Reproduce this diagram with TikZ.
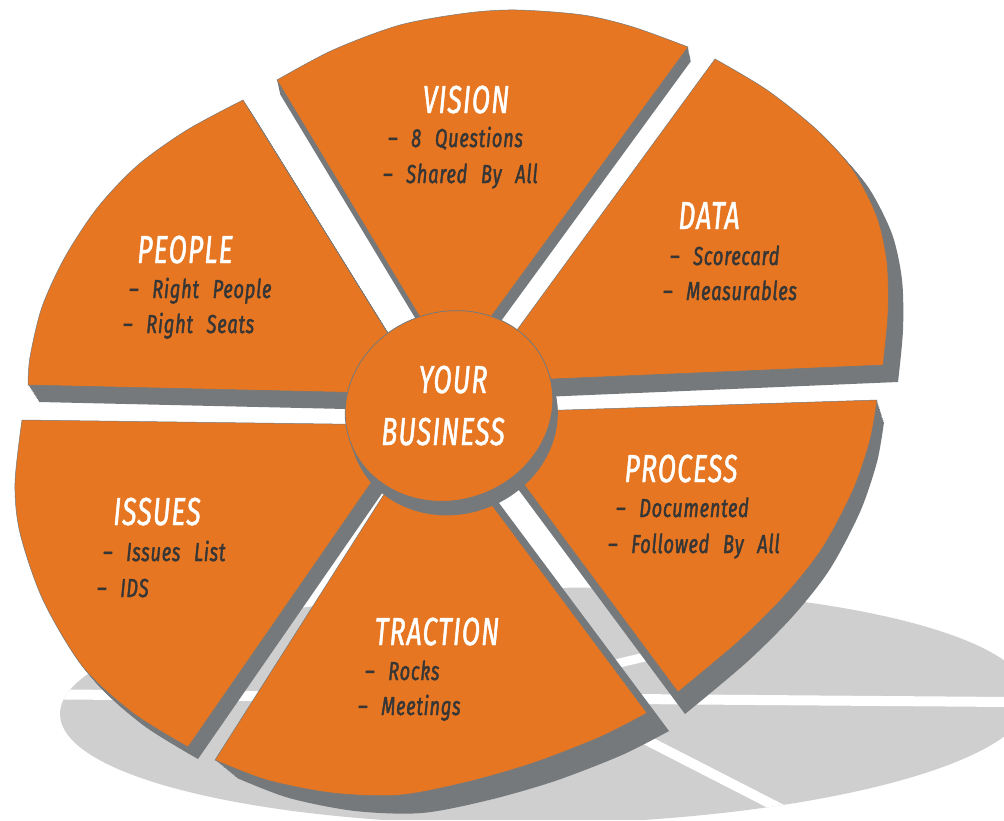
\documentclass[tikz,border=0pt]{standalone}
\usepackage{fontspec}
\newfontfamily\dint[FakeStretch=0.68,LetterSpace=3,WordSpace=2.4,FakeBold=1.2]{Fira Sans}
\newfontfamily\dini[FakeStretch=0.70,LetterSpace=3,WordSpace=2.5,FakeBold=1.6]{Fira Sans}
\definecolor{org}{HTML}{E67621}
\definecolor{side}{HTML}{76797B}
\definecolor{shadowgray}{HTML}{CFCFCF}
\definecolor{ink}{HTML}{363636}
\tikzset{
  ttl/.style={font=\dint\itshape\fontsize{39}{39}\selectfont, text=white, inner sep=0pt, anchor=base},
  itm/.style={font=\dini\itshape\fontsize{26}{26}\selectfont, text=ink, inner sep=0pt, anchor=base west},
  face/.style={fill=org, draw=side, line width=0.5pt}
}
\def\pPeople{(243,100) -- (423,390) -- (423,394) -- (28,385) -- plot[smooth] coordinates {(28,385) (30,357) (42,307) (65,257) (98,207) (138,165) (187,130) (243,100)} -- cycle}
\def\pVision{(277,80) -- (452,370) -- (688,47) -- plot[smooth] coordinates {(688,47) (633,27) (583,15) (517,10) (467,13) (400,25) (333,50) (277,80)} -- cycle}
\def\pData{(715,59) -- (479,382) -- (883,365) -- plot[smooth] coordinates {(883,365) (888,313) (887,263) (877,217) (853,170) (817,130) (767,90) (715,59)} -- cycle}
\def\pProcess{(471,413) -- (877,400) -- plot[smooth] coordinates {(877,400) (870,440) (853,490) (823,547) (787,593) (740,640) (678,692)} -- cycle}
\def\pTraction{(430,422) -- (647,713) -- plot[smooth] coordinates {(647,713) (600,737) (533,763) (467,782) (400,795) (333,793) (267,780) (215,760)} -- cycle}
\def\pIssues{(411,425) -- (188,747) -- plot[smooth] coordinates {(188,747) (133,713) (83,667) (43,600) (20,533) (15,483) (22,420)} -- cycle}
\newcommand\extrude[3]{\foreach \k in {1,...,12}{\fill[side, shift={(\k*#2/12,\k*#3/12)}] #1;}}
\begin{document}
\begin{tikzpicture}[x=1pt,y=-1pt]
\clip (0,0) rectangle (1004,820);
\fill[white] (0,0) rectangle (1004,820);
% shadow
\begin{scope}
  \clip[rotate around={1:(545,706)}] (545,706) ellipse [x radius=485pt, y radius=118pt];
  \fill[shadowgray] (0,0) rectangle (1004,820);
  \draw[white, line width=10pt] (0,694) -- (1010,702);
  \draw[white, line width=10pt] (500,665) -- (820,829);
  \draw[white, line width=9pt] (560,677) -- (700,644);
\end{scope}
% sides
\extrude{\pPeople}{11}{17}
\extrude{\pVision}{3}{14}
\extrude{\pData}{15}{17}
\extrude{\pProcess}{7}{22}
\extrude{\pTraction}{22}{18}
\extrude{\pIssues}{10}{12}
% faces
\path[face] \pPeople;
\path[face] \pVision;
\path[face] \pData;
\path[face] \pProcess;
\path[face] \pTraction;
\path[face] \pIssues;
% centre
\foreach \k in {1,...,12}{\fill[side, shift={(\k*5/12,\k*14/12)}, rotate around={20:(449,406)}] (449,406) ellipse [x radius=105pt, y radius=94pt];}
\path[face, line width=0.8pt, rotate around={20:(449,406)}] (449,406) ellipse [x radius=105pt, y radius=94pt];
% texts
\node[ttl] (tv) at (466,113) {VISION};
\node[itm] (v1) at (388,147) {– 8 Questions};
\node[itm] (v2) at (383,183) {– Shared By All};
\node[ttl] (td) at (709,229) {DATA};
\node[itm] (d1) at (670,265) {– Scorecard};
\node[itm] (d2) at (663,300) {– Measurables};
\node[ttl] (tp) at (185,263) {PEOPLE};
\node[itm] (p1) at (129,298) {– Right People};
\node[itm] (p2) at (123,333) {– Right Seats};
\node[ttl] (ti) at (157,525) {ISSUES};
\node[itm] (i1) at (103,561) {– Issues List};
\node[itm] (i2) at (97,597) {– IDS};
\node[ttl] (tt) at (437,645) {TRACTION};
\node[itm] (t1) at (365,680) {– Rocks};
\node[itm] (t2) at (358,715) {– Meetings};
\node[ttl] (tr) at (681,482) {PROCESS};
\node[itm] (r1) at (616,517) {– Documented};
\node[itm] (r2) at (608,553) {– Followed By All};
\node[ttl] (c1) at (453,393) {YOUR};
\node[ttl] (c2) at (443,445) {BUSINESS};
\end{tikzpicture}
\end{document}
